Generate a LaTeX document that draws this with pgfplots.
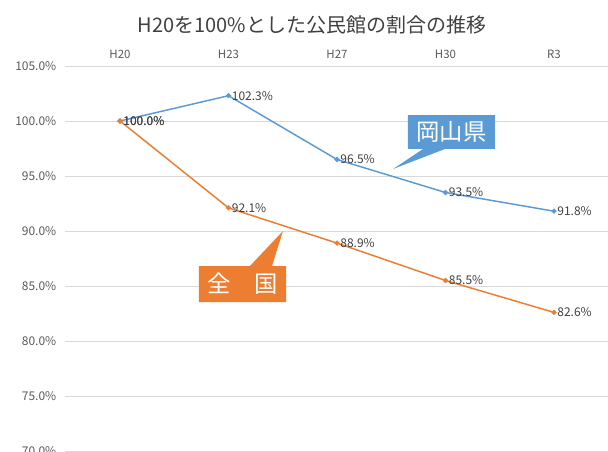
\documentclass[border=0pt]{standalone}
\usepackage{fontspec}
\setmainfont{Noto Sans CJK JP}
\usepackage{pgfplots}
\pgfplotsset{compat=1.18}

\definecolor{kenblue}{HTML}{5B9BD5}
\definecolor{zenorange}{HTML}{ED7D31}
\definecolor{gridgray}{HTML}{D9D9D9}
\definecolor{ticktext}{HTML}{595959}
\definecolor{labeltext}{HTML}{404040}

\begin{document}
\begin{tikzpicture}
% 1 px of the reference = 0.75pt
\begin{scope}
\clip (-48.75pt,0pt) rectangle (407.25pt,338.25pt);
\begin{axis}[
    x=81.375pt, y=8.25pt,
    xmin=-0.507, xmax=4.608,
    ymin=70, ymax=105,
    axis line style={draw=none},
    major tick length=0pt,
    xtick={0,1,2,3,4},
    xticklabels={H20,H23,H27,H30,R3},
    xticklabel pos=upper,
    xticklabel style={font=\fontsize{8.6}{9}\selectfont, text=ticktext, yshift=2pt},
    ytick={70,75,...,105},
    yticklabel={\pgfmathprintnumber[fixed,fixed zerofill,precision=1]{\tick}\%},
    yticklabel style={font=\fontsize{9}{10}\selectfont, text=ticktext, xshift=-3pt},
    /pgf/number format/assume math mode=true,
    ymajorgrids,
    grid style={gridgray, line width=0.7pt},
    clip=false,
    nodes near coords,
    point meta=explicit symbolic,
    every node near coord/.style={anchor=west, font=\fontsize{9}{10}\selectfont, text=labeltext, inner sep=1pt, xshift=1pt},
]
\addplot[kenblue, line width=1.1pt, mark=*, mark size=1.3pt] coordinates {
    (0,100.0) [100.0\%]
    (1,102.3) [102.3\%]
    (2,96.5) [96.5\%]
    (3,93.5) [93.5\%]
    (4,91.8) [91.8\%]
};
\addplot[zenorange, line width=1.1pt, mark=*, mark size=1.3pt] coordinates {
    (0,100.0) [100.0\%]
    (1,92.1) [92.1\%]
    (2,88.9) [88.9\%]
    (3,85.5) [85.5\%]
    (4,82.6) [82.6\%]
};
% callout: Okayama
\fill[kenblue] (axis cs:2.654,100.545) -- (axis cs:3.456,100.545)
    -- (axis cs:3.456,97.455) -- (axis cs:2.995,97.455)
    -- (axis cs:2.516,95.636) -- (axis cs:2.793,97.455)
    -- (axis cs:2.654,97.455) -- cycle;
\node[text=white, font=\fontsize{17.5}{18}\selectfont] at (axis cs:3.055,99.0) {岡山県};
% callout: national
\fill[zenorange] (axis cs:0.728,86.818) -- (axis cs:1.198,86.818)
    -- (axis cs:1.502,90.0) -- (axis cs:1.401,86.818)
    -- (axis cs:1.530,86.818) -- (axis cs:1.530,83.545)
    -- (axis cs:0.728,83.545) -- cycle;
\node[text=white, font=\fontsize{17.5}{18}\selectfont] at (axis cs:1.129,85.18) {全　国};
\end{axis}
\end{scope}
\node[text=labeltext, font=\fontsize{15}{16}\selectfont] at (185.25pt,319.5pt) {H20を100\%とした公民館の割合の推移};
\pgfresetboundingbox
\path[use as bounding box] (-48.75pt,0pt) rectangle (407.25pt,338.25pt);
\end{tikzpicture}
\end{document}
